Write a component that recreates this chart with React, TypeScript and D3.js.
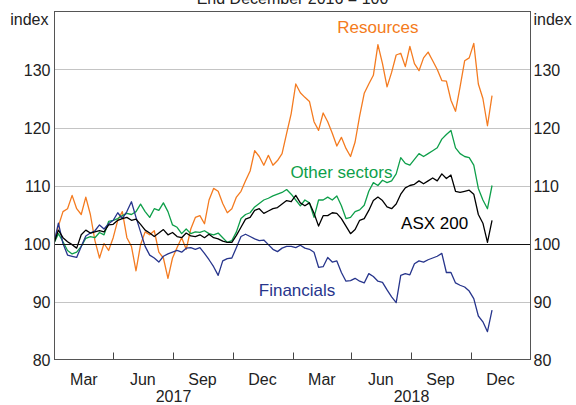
import React from "react";
import * as d3 from "d3";

const START = new Date(2016, 11, 31);
const WEEKS = 97;

const resources = [100, 103, 105.5, 106, 108.3, 106, 105, 108, 105, 100.5, 97.5, 100, 98.8, 101, 104, 105.5, 101, 99.5, 95.3, 99.8, 102, 101.5, 102.2, 98.5, 97.5, 94, 97.5, 99.3, 101, 99, 102.5, 104.5, 104.8, 103.4, 107.5, 109.5, 109, 106.9, 105.3, 106, 108, 109, 110.8, 112.5, 116, 115, 113.5, 115.2, 113.5, 114.3, 115.5, 119, 122.4, 127.5, 126, 125.2, 124.5, 121, 119.5, 122.5, 121, 119, 116.8, 118.3, 116.4, 115, 117.5, 122, 125.9, 127.5, 129, 134.3, 131, 127, 129.5, 132.5, 132.8, 130.5, 134, 131, 129.8, 132, 133, 131.5, 130, 128.1, 128, 124.7, 122.8, 127, 131.5, 132, 134.5, 127.5, 125, 120.3, 125.5];

const otherSectors = [100, 101.7, 100.3, 98.8, 98.2, 98.5, 99.5, 100.9, 101.2, 101, 101.9, 101.5, 103.8, 104, 104.3, 104.8, 105.2, 105, 105.5, 106.8, 105.5, 104.5, 106, 105.7, 107, 105.5, 103.2, 102.8, 101.7, 102.5, 101.7, 102, 101.9, 102.2, 101.7, 101.5, 101.8, 101, 100.2, 100.5, 102, 104.3, 105, 105.3, 106.3, 106.9, 107.5, 107.8, 108.2, 108.5, 108.8, 109.3, 108.5, 107.5, 106.5, 107.5, 107, 104.5, 107.5, 107.5, 108, 107.5, 108.2, 106.5, 104.3, 104.5, 105.5, 105.8, 106.6, 109, 110.5, 110, 110.9, 110.5, 110.8, 112, 114.8, 113.8, 113.5, 114.5, 115.5, 115, 115.5, 116, 116.5, 118, 118.8, 119.5, 116.5, 115.5, 115, 114.8, 113.5, 109.5, 107.5, 106, 110];

const asx200 = [100, 102.3, 101, 100.3, 99.8, 99.2, 101.5, 102.3, 101.8, 102, 102.2, 102, 103.2, 103.3, 104, 104.3, 104.5, 104, 104.2, 103.3, 102.3, 101.8, 101.2, 101.8, 102.4, 101.5, 101.9, 101.2, 101, 101.8, 101.3, 101.2, 101.5, 101, 101.6, 101, 100.8, 100.4, 100.2, 100.2, 101.4, 102.8, 104.2, 104.5, 105.7, 106, 105.2, 105.6, 106, 106.2, 106.8, 107.4, 107.2, 108.3, 107, 106.5, 107, 105.2, 103, 104.8, 104.8, 105.3, 105.2, 104.3, 103, 101.7, 102.4, 104, 104.3, 105.7, 107.4, 108, 107.4, 106.3, 106, 106.8, 108.5, 109.6, 110, 110.2, 110.8, 110.3, 110.8, 111.3, 110.8, 112, 111.2, 111.8, 109, 108.8, 109, 109.2, 108.5, 105, 103.5, 100.2, 104];

const financials = [100, 103.5, 100, 98, 97.8, 97.6, 99.5, 101.3, 101.8, 102.2, 103.2, 102.5, 103.4, 104, 105.3, 104.3, 105.5, 107.2, 104.5, 102, 99.5, 98, 97.5, 96.8, 97.8, 98.2, 98.5, 98.8, 98.5, 99.2, 99.3, 99, 99.3, 98.3, 97.2, 96, 94.5, 97, 97.4, 97.5, 99.3, 101.2, 101.6, 101.2, 100.8, 100.5, 100.6, 99.8, 99, 98.6, 99.2, 99.5, 99.5, 99.3, 99.7, 99.2, 99, 98.5, 95.9, 96, 97.6, 96.8, 97, 95, 93.5, 93.6, 94, 93.5, 93.2, 94.8, 94.3, 93.5, 93.3, 92, 90.8, 89.8, 94.5, 94.8, 94.6, 96.5, 97, 96.8, 97.2, 97.5, 97.8, 98.3, 95, 95, 93.2, 92.8, 92.5, 91.8, 90.5, 87.5, 86.5, 84.8, 88.5];

const yTicks = [80, 90, 100, 110, 120, 130];
const monthLabels = ["Mar", "Jun", "Sep", "Dec", "Mar", "Jun", "Sep", "Dec"];
const yearLabels = ["2017", "2018"];

const seriesNames = ["Resources", "Other sectors", "ASX 200", "Financials"];
const seriesColors = ["#F47B20", "#0E9F4A", "#000000", "#27358C"];

const W = 576;
const H = 405;
const L = 54.5;
const R = 530.5;
const T = 11.5;
const B = 359.5;

export default function App() {
  const x = d3.scaleTime().domain([new Date(2017, 0, 1), new Date(2019, 0, 1)]).range([L, R]);
  const y = d3.scaleLinear().domain([80, 140]).range([B, T]);
  const dates = d3.range(WEEKS).map((i) => d3.timeDay.offset(START, i * 7));
  const seriesData = [resources, otherSectors, financials, asx200];
  const drawColors = [seriesColors[0], seriesColors[1], seriesColors[3], seriesColors[2]];
  const line = d3
    .line<number>()
    .x((_, i) => x(dates[i]))
    .y((v) => y(v));
  const quarterTicks = d3.timeMonth.every(3)!.range(new Date(2017, 0, 1), new Date(2019, 0, 2));
  const font = "Arial, 'Liberation Sans', sans-serif";
  const labelPos = [
    { name: seriesNames[0], date: new Date(2018, 4, 12), v: 136.3, color: seriesColors[0] },
    { name: seriesNames[1], date: new Date(2018, 2, 17), v: 111.3, color: seriesColors[1] },
    { name: seriesNames[2], date: new Date(2018, 7, 7), v: 102.5, color: seriesColors[2] },
    { name: seriesNames[3], date: new Date(2018, 0, 8), v: 90.9, color: seriesColors[3] },
  ];
  return (
    <svg
      width={W}
      height={H}
      style={{ position: "absolute", left: 0, top: 0, background: "#fff" }}
      fontFamily={font}
    >
      <defs>
        <clipPath id="plot">
          <rect x={L} y={T} width={R - L} height={B - T} />
        </clipPath>
      </defs>
      <text x={(L + R) / 2} y={4} fontSize={16} textAnchor="middle" fill="#222">
        End December 2016 = 100
      </text>
      {yTicks
        .filter((t) => t !== 80 && t !== 100)
        .map((t) => (
          <line key={t} x1={L} x2={R} y1={Math.round(y(t)) + 0.5} y2={Math.round(y(t)) + 0.5} stroke="#c4c4c4" strokeWidth={1} />
        ))}
      {quarterTicks.slice(1, -1).map((d, i) => (
        <line key={i} x1={Math.round(x(d)) + 0.5} x2={Math.round(x(d)) + 0.5} y1={B} y2={B - 7} stroke="#444" />
      ))}
      <g clipPath="url(#plot)">
        {seriesData.map((s, k) => (
          <path key={k} d={line(s) || ""} fill="none" stroke={drawColors[k]} strokeWidth={1.3} strokeLinejoin="round" />
        ))}
      </g>
      <line x1={L} x2={R} y1={Math.round(y(100)) + 0.5} y2={Math.round(y(100)) + 0.5} stroke="#111" strokeWidth={1} />
      <rect x={L} y={T} width={R - L} height={B - T} fill="none" stroke="#555" strokeWidth={1} />
      {yTicks.map((t) => (
        <g key={t}>
          <text x={L - 4} y={y(t) + 6} fontSize={16} textAnchor="end" fill="#222">
            {t}
          </text>
          <text x={R + 3} y={y(t) + 6} fontSize={16} textAnchor="start" fill="#222">
            {t}
          </text>
        </g>
      ))}
      <text x={L - 6} y={25} fontSize={16} textAnchor="end" fill="#222">
        index
      </text>
      <text x={R + 3} y={25} fontSize={16} textAnchor="start" fill="#222">
        index
      </text>
      {monthLabels.map((m, i) => {
        const a = quarterTicks[i];
        const b = quarterTicks[i + 1];
        const cx = (x(a) + x(b)) / 2;
        return (
          <text key={i} x={cx} y={385} fontSize={16} textAnchor="middle" fill="#222">
            {m}
          </text>
        );
      })}
      {yearLabels.map((yr, i) => {
        const a = new Date(2017 + i, 0, 1);
        const b = new Date(2018 + i, 0, 1);
        return (
          <text key={yr} x={(x(a) + x(b)) / 2} y={402} fontSize={16} textAnchor="middle" fill="#222">
            {yr}
          </text>
        );
      })}
      {labelPos.map((l) => (
        <text key={l.name} x={x(l.date)} y={y(l.v)} fontSize={17} textAnchor="middle" fill={l.color}>
          {l.name}
        </text>
      ))}
    </svg>
  );
}
